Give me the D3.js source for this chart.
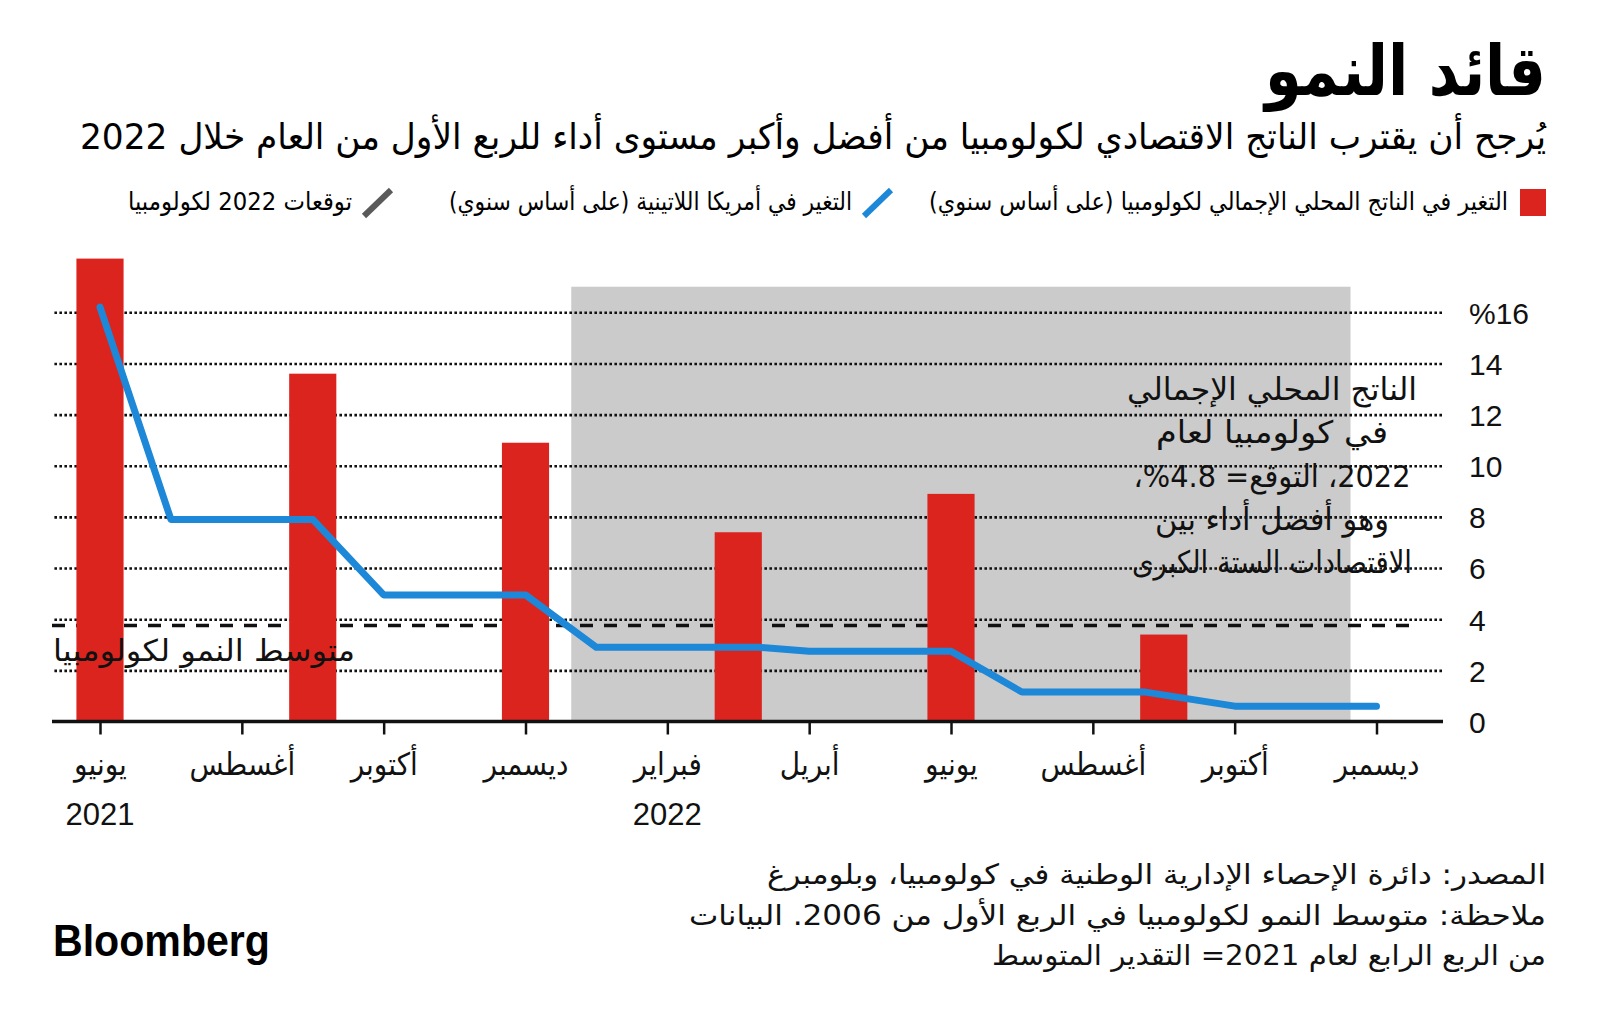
<!DOCTYPE html>
<html><head><meta charset="utf-8">
<script src="https://cdn.jsdelivr.net/npm/d3@7"></script>
<style>
html,body{margin:0;padding:0;background:#fff;}
svg{display:block;}
.ar{font-family:"DejaVu Sans Condensed","DejaVu Sans",sans-serif;}
.num{font-family:"Liberation Sans",Arial,sans-serif;}
</style></head><body>
<svg id="chart" width="1600" height="1022"></svg>
<script>
// ---------- data ----------
const titleText = "قائد النمو";
const subtitleText = "يُرجح أن يقترب الناتج الاقتصادي لكولومبيا من أفضل وأكبر مستوى أداء للربع الأول من العام خلال 2022";
const legendLabels = [
  "التغير في الناتج المحلي الإجمالي لكولومبيا (على أساس سنوي)",
  "التغير في أمريكا اللاتينية (على أساس سنوي)",
  "توقعات 2022 لكولومبيا"
];
const tickMonths = ["2021-06","2021-08","2021-10","2021-12","2022-02","2022-04","2022-06","2022-08","2022-10","2022-12"];
const tickLabels = ["يونيو","أغسطس","أكتوبر","ديسمبر","فبراير","أبريل","يونيو","أغسطس","أكتوبر","ديسمبر"];
const yearMonths = ["2021-06","2022-02"];
const yearLabels = ["2021","2022"];
const yTicks = [0,2,4,6,8,10,12,14,16];
const barMonths = ["2021-06","2021-09","2021-12","2022-03","2022-06","2022-09"];
const barValues = [18.1, 13.6, 10.9, 7.4, 8.9, 3.4];
const lineDates = ["2021-06-01","2021-07-01","2021-09-01","2021-10-01","2021-12-01","2022-01-01","2022-03-10","2022-04-01","2022-06-01","2022-07-01","2022-08-24","2022-10-01","2022-12-01"];
const lineValues = [16.2, 7.9, 7.9, 4.95, 4.95, 2.9, 2.9, 2.75, 2.75, 1.15, 1.15, 0.6, 0.6];
const avgGrowth = 3.75;
const avgLabel = "متوسط النمو لكولومبيا";
const forecastStart = "2021-12-21", forecastEnd = "2022-11-20", forecastTop = 17;
const noteLines = [
  "الناتج المحلي الإجمالي",
  "في كولومبيا لعام",
  "2022، التوقع= \u2066%4.8\u2069،",
  "وهو أفضل أداء بين",
  "الاقتصادات الستة الكبرى"
];
const footerLines = [
  "المصدر: دائرة الإحصاء الإدارية الوطنية في كولومبيا، وبلومبرغ",
  "ملاحظة: متوسط النمو لكولومبيا في الربع الأول من 2006. البيانات",
  "من الربع الرابع لعام 2021= التقدير المتوسط"
];

// ---------- layout / style ----------
const RED = "#dc241f", BLUE = "#1d87d8", BAND = "#cbcbcb";
const noteWidths = [290, 232, 277, 234, 280];
const footerWidths = [779, 857, 554];
const legendWidths = [579, 403, 224];

function mIdx(s){
  const p = s.split("-").map(Number);
  const yr = p[0], m = p[1], d = p[2] || 1;
  const dim = new Date(yr, m, 0).getDate();
  return (yr - 2021) * 12 + (m - 6) + (d - 1) / dim;
}

const svg = d3.select("#chart");
const x = d3.scaleLinear().domain([0, 18]).range([100, 1376.5]);
const y = d3.scaleLinear().domain([0, 16]).range([721.5, 312.3]);
const left = 52, right = 1442;

// title & subtitle
svg.append("text").attr("class","ar").attr("direction","rtl")
  .attr("x",1546).attr("y",95).attr("text-anchor","start")
  .attr("font-size",70).attr("font-weight","bold")
  .attr("textLength",281).attr("lengthAdjust","spacingAndGlyphs")
  .text(titleText);
svg.append("text").attr("class","ar").attr("direction","rtl")
  .attr("x",1546).attr("y",149).attr("text-anchor","start")
  .attr("font-size",36)
  .attr("textLength",1466).attr("lengthAdjust","spacingAndGlyphs")
  .text(subtitleText);

// legend
svg.append("rect").attr("x",1520).attr("y",189).attr("width",26).attr("height",27).attr("fill",RED);
svg.append("line").attr("x1",864).attr("y1",216).attr("x2",891).attr("y2",190)
  .attr("stroke",BLUE).attr("stroke-width",6);
svg.append("line").attr("x1",364).attr("y1",216).attr("x2",391).attr("y2",190)
  .attr("stroke","#5a5a5a").attr("stroke-width",6);
const legendRight = [1508, 852, 352];
legendLabels.forEach((t,i)=>{
  svg.append("text").attr("class","ar").attr("direction","rtl")
    .attr("x",legendRight[i]).attr("y",210).attr("text-anchor","start")
    .attr("font-size",25)
    .attr("textLength",legendWidths[i]).attr("lengthAdjust","spacingAndGlyphs")
    .text(t);
});

// forecast band
svg.append("rect")
  .attr("x", x(mIdx(forecastStart)))
  .attr("y", y(forecastTop))
  .attr("width", x(mIdx(forecastEnd)) - x(mIdx(forecastStart)))
  .attr("height", y(0) - y(forecastTop))
  .attr("fill", BAND);

// gridlines + y labels via axis
const yAxis = d3.axisRight(y).tickValues(yTicks)
  .tickSize(-(right - left)).tickPadding(27)
  .tickFormat(d => d === 16 ? "%16" : d);
const gy = svg.append("g").attr("transform",`translate(${right},0)`).call(yAxis);
gy.select(".domain").remove();
gy.selectAll(".tick line")
  .attr("stroke","#111").attr("stroke-width",2.6).attr("stroke-dasharray","2.6,2.4")
  .attr("display", d => d === 0 ? "none" : null);
gy.selectAll(".tick text").attr("class","num").attr("font-size",30).attr("fill","#111")
  .attr("dy","0.36em").attr("font-family","Liberation Sans, Arial, sans-serif");

// average dashed line
svg.append("line").attr("x1",left).attr("x2",1413)
  .attr("y1",y(avgGrowth)).attr("y2",y(avgGrowth))
  .attr("stroke","#111").attr("stroke-width",3.5).attr("stroke-dasharray","13,11");

// bars
const bw = (x(1) - x(0)) * 0.665;
svg.append("g").selectAll("rect").data(barMonths.map((m,i)=>({m, v:barValues[i]})))
  .join("rect")
  .attr("x", d => x(mIdx(d.m)) - bw/2)
  .attr("y", d => y(d.v))
  .attr("width", bw)
  .attr("height", d => y(0) - y(d.v))
  .attr("fill", RED);

// avg label
svg.append("text").attr("class","ar").attr("direction","rtl")
  .attr("x",355).attr("y",661).attr("text-anchor","start")
  .attr("font-size",30)
  .attr("textLength",302).attr("lengthAdjust","spacingAndGlyphs")
  .attr("fill","#111")
  .text(avgLabel);

// blue line
const lineGen = d3.line().x(d => x(mIdx(d.d))).y(d => y(d.v));
svg.append("path").datum(lineDates.map((d,i)=>({d, v:lineValues[i]})))
  .attr("d", lineGen).attr("fill","none").attr("stroke",BLUE)
  .attr("stroke-width",7).attr("stroke-linecap","round").attr("stroke-linejoin","round");

// x axis
svg.append("line").attr("x1",left).attr("x2",right+1).attr("y1",y(0)).attr("y2",y(0))
  .attr("stroke","#111").attr("stroke-width",3.5);
const xAxis = d3.axisBottom(x).tickValues(tickMonths.map(mIdx))
  .tickSize(13).tickFormat((d,i)=>tickLabels[i]);
const gx = svg.append("g").attr("transform",`translate(0,${y(0)})`).call(xAxis);
gx.select(".domain").remove();
gx.selectAll(".tick line").attr("stroke","#111").attr("stroke-width",2.5);
gx.selectAll(".tick text").attr("class","ar").attr("font-size",31).attr("fill","#111")
  .attr("font-family",null).attr("direction","rtl")
  .attr("y",53).attr("dy",null);
// year labels
svg.append("g").selectAll("text").data(yearMonths.map((m,i)=>({m,t:yearLabels[i]})))
  .join("text").attr("class","num")
  .attr("x", d => x(mIdx(d.m))).attr("y",825).attr("text-anchor","middle")
  .attr("font-size",31).attr("fill","#111").text(d => d.t);

// annotation
noteLines.forEach((t,i)=>{
  svg.append("text").attr("class","ar").attr("direction","rtl")
    .attr("x",1272).attr("y",400 + i*43.3).attr("text-anchor","middle")
    .attr("font-size",31).attr("fill","#111")
    .attr("textLength",noteWidths[i]).attr("lengthAdjust","spacingAndGlyphs")
    .text(t);
});

// footer
footerLines.forEach((t,i)=>{
  svg.append("text").attr("class","ar").attr("direction","rtl")
    .attr("x",1546).attr("y",884 + i*40.5).attr("text-anchor","start")
    .attr("font-size",28).attr("fill","#111")
    .attr("textLength",footerWidths[i]).attr("lengthAdjust","spacingAndGlyphs")
    .text(t);
});

// Bloomberg logo
svg.append("text").attr("x",53).attr("y",956)
  .attr("font-family","Liberation Sans, Arial, sans-serif").attr("font-weight","bold")
  .attr("font-size",45).attr("textLength",217).attr("lengthAdjust","spacingAndGlyphs")
  .attr("fill","#000").text("Bloomberg");
</script>
</body></html>
